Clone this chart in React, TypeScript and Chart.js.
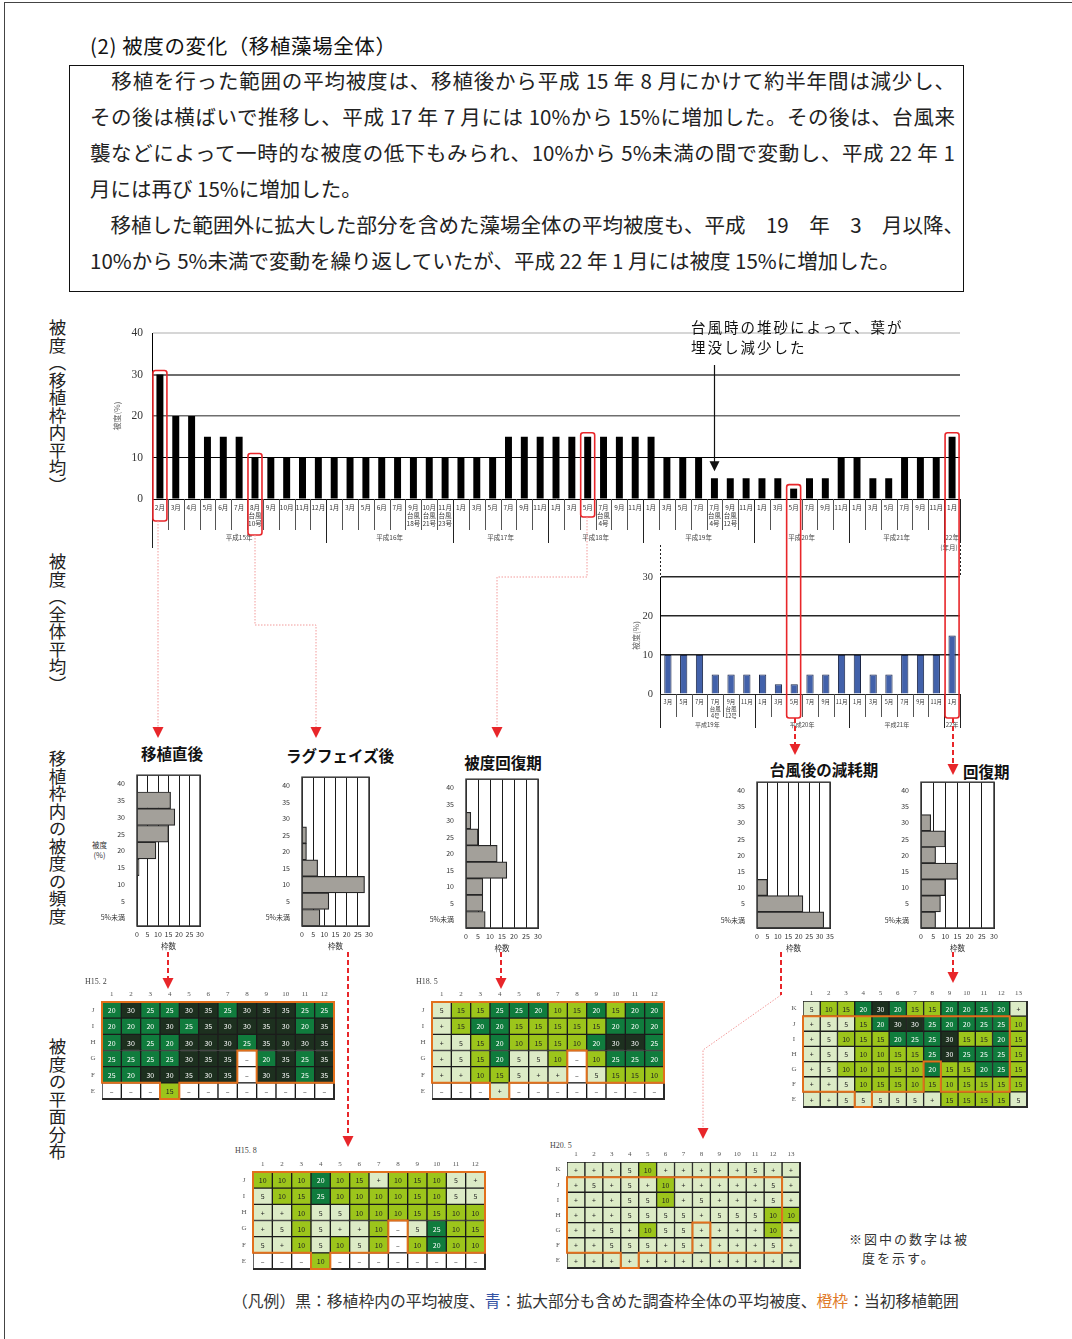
import { useEffect, useRef } from "react";
import { Chart, registerables } from "chart.js";

Chart.register(...registerables);

const JP = '"Noto Sans CJK JP", "Noto Sans", sans-serif';
const SERIF = '"Liberation Serif", "DejaVu Serif", serif';

// ---- 被度（移植枠内平均） 平成15年2月〜平成22年1月 ----
const MAIN_MONTHS = [
  "2月", "3月", "4月", "5月", "6月", "7月", "8月\n台風\n10号", "9月", "10月", "11月", "12月",
  "1月", "3月", "5月", "6月", "7月", "9月\n台風\n18号", "10月\n台風\n21号", "11月\n台風\n23号",
  "1月", "3月", "5月", "7月", "9月", "11月",
  "1月", "3月", "5月", "7月\n台風\n4号", "9月", "11月",
  "1月", "3月", "5月", "7月", "7月\n台風\n4号", "9月\n台風\n12号", "11月",
  "1月", "3月", "5月", "7月", "9月", "11月",
  "1月", "3月", "5月", "7月", "9月", "11月",
  "1月",
];
const MAIN_YEARS = ["平成15年", "平成16年", "平成17年", "平成18年", "平成19年", "平成20年", "平成21年", "22年"];
const MAIN_YEAR_SPANS = [11, 8, 6, 6, 7, 6, 6, 1];
const MAIN_COVER = [
  30, 20, 20, 15, 15, 15, 10, 10, 10, 10, 10,
  10, 10, 10, 10, 10, 10, 10, 10,
  10, 10, 10, 15, 15, 15,
  15, 15, 15, 15, 15, 15,
  15, 10, 10, 10, 5, 5, 5,
  5, 5, 2.5, 5, 5, 10,
  10, 5, 5, 10, 10, 10,
  15,
];
const MAIN_MARKED = [0, 6, 27, 40, 50];
const MAIN_NOTE_INDEX = 35;

// ---- 被度（全体平均） 平成19年3月〜平成22年1月 ----
const ALL_MONTHS = [
  "3月", "5月", "7月", "7月\n台風\n4号", "9月\n台風\n12号", "11月",
  "1月", "3月", "5月", "7月", "9月", "11月",
  "1月", "3月", "5月", "7月", "9月", "11月",
  "1月",
];
const ALL_YEARS = ["平成19年", "平成20年", "平成21年", "22年"];
const ALL_YEAR_SPANS = [6, 6, 6, 1];
const ALL_COVER = [10, 10, 10, 5, 5, 5, 5, 2.5, 2.5, 5, 5, 10, 10, 5, 5, 10, 10, 10, 15];

// ---- 移植枠内の被度の頻度（枠数） ----
const FREQ_LEVELS = ["40", "35", "30", "25", "20", "15", "10", "5", "5%未満"];
const FREQ_AFTER_PLANTING = [0, 16, 18, 15, 9, 1, 0, 0, 0];
const FREQ_LAG_PHASE = [0, 0, 0, 2, 2, 7, 28, 12, 8];
const FREQ_RECOVERING = [0, 0, 2, 5, 13, 17, 7, 7, 8];
const FREQ_AFTER_TYPHOON = [0, 0, 0, 0, 0, 0, 5, 22, 32];
const FREQ_RECOVERED = [0, 0, 4, 10, 6, 15, 10, 8, 6];

// ---- 被度の平面分布（枠ごとの被度） ----
const ROWS_J = ["J", "I", "H", "G", "F", "E"];
const ROWS_K = ["K", "J", "I", "H", "G", "F", "E"];
const MAP_H15_2 = [
  "20 30 25 25 30 35 25 30 35 35 25 25",
  "20 20 20 30 25 35 30 30 35 30 20 35",
  "20 30 25 20 30 30 30 25 35 30 30 35",
  "25 25 25 25 30 35 35 - 20 35 25 35",
  "25 20 30 30 35 30 35 - 30 35 25 35",
  "- - - 15 - - - - - - - -",
];
const MAP_H15_8 = [
  "10 10 10 20 10 15 + 10 15 10 5 +",
  "5 10 15 25 10 10 10 10 15 10 5 5",
  "+ + 10 5 5 10 10 10 15 15 10 10",
  "+ 5 10 5 + + 10 - 5 25 10 15",
  "5 + 10 5 10 5 10 - 10 20 10 10",
  "- - - 10 - - - - - - - -",
];
const MAP_H18_5 = [
  "5 15 15 25 25 20 10 15 20 15 20 20",
  "+ 15 20 20 15 15 15 15 15 20 20 20",
  "+ 5 15 20 10 15 15 10 20 30 30 25",
  "+ 5 15 20 5 5 10 - 10 25 25 20",
  "+ + 10 15 5 + + - 5 15 15 10",
  "- - - + - - - - - - - -",
];
const MAP_H20_5 = [
  "+ + + 5 10 + + + + + 5 + +",
  "+ 5 + 5 + 10 + + + + + 5 +",
  "+ + + 5 5 10 + 5 + + + 5 +",
  "+ + + 5 5 5 5 + 5 5 5 10 10",
  "+ + 5 + 10 5 5 + + + + 10 +",
  "+ + 5 5 5 + 5 + + + + 5 +",
  "+ + + + + + + + + + + + +",
];
const MAP_H22_1 = [
  "5 10 15 20 30 20 15 15 20 20 25 20 +",
  "+ 5 5 15 20 30 30 25 20 20 25 25 10",
  "+ 5 10 15 15 20 25 25 30 15 15 20 15",
  "+ 5 5 10 10 15 15 25 30 25 25 25 15",
  "+ 5 10 10 10 15 10 20 15 15 20 25 15",
  "+ + 5 10 15 15 10 15 10 15 15 15 15",
  "+ + 5 5 5 5 5 + 15 15 15 15 5",
];
// 当初移植範囲（橙枠）
const ORIGINAL_ROWS = ["J", "I", "H", "G", "F"];
const ORIGINAL_COLS = 12;
const ORIGINAL_EXCLUDED = ["G8", "F8"];
const ORIGINAL_EXTRA = ["E4"];

const PARAGRAPH = [
  { text: "　移植を行った範囲の平均被度は、移植後から平成 15 年 8 月にかけて約半年間は減少し、", justify: true },
  { text: "その後は横ばいで推移し、平成 17 年 7 月には 10%から 15%に増加した。その後は、台風来", justify: true },
  { text: "襲などによって一時的な被度の低下もみられ、10%から 5%未満の間で変動し、平成 22 年 1", justify: true },
  { text: "月には再び 15%に増加した。", justify: false },
  { text: "　移植した範囲外に拡大した部分を含めた藻場全体の平均被度も、平成　19　年　3　月以降、", justify: true },
  { text: "10%から 5%未満で変動を繰り返していたが、平成 22 年 1 月には被度 15%に増加した。", justify: false },
];

const RED = "#e8262a";

function yearBoundaries(spans: number[]) {
  const set = new Set<number>();
  let acc = 0;
  spans.forEach((s) => {
    acc += s;
    set.add(acc);
  });
  return set;
}

// Month / year rows under a timeline bar chart
function drawTimeAxis(chart: any, months: string[], years: string[], spans: number[], o: any) {
  const { ctx, chartArea: a } = chart;
  const xs = chart.scales.x;
  const n = months.length;
  const step = (a.right - a.left) / n;
  const bounds = yearBoundaries(spans);
  ctx.save();
  ctx.fillStyle = "#333";
  ctx.textAlign = "center";
  ctx.textBaseline = "middle";
  ctx.font = `${o.monthFont}px ${JP}`;
  months.forEach((m, i) => {
    const cx = xs.getPixelForValue(i);
    m.split("\n").forEach((ln, k) => ctx.fillText(ln, cx, a.bottom + o.monthTop + k * o.monthGap));
  });
  ctx.lineWidth = 1;
  for (let i = 1; i <= n; i++) {
    const bx = Math.round(a.left + i * step) + 0.5;
    const isYear = bounds.has(i);
    ctx.strokeStyle = isYear ? "#222" : "#555";
    ctx.beginPath();
    ctx.moveTo(bx, a.bottom);
    ctx.lineTo(bx, a.bottom + (isYear ? o.yearLen : o.monthLen));
    ctx.stroke();
  }
  ctx.strokeStyle = "#222";
  ctx.beginPath();
  ctx.moveTo(Math.round(a.left) + 0.5, a.bottom);
  ctx.lineTo(Math.round(a.left) + 0.5, a.bottom + o.axisLen);
  ctx.stroke();
  ctx.font = `${o.yearFont}px ${JP}`;
  ctx.fillStyle = "#444";
  let acc = 0;
  years.forEach((y, k) => {
    const cx = a.left + (acc + spans[k] / 2) * step;
    ctx.fillText(y, cx, a.bottom + o.yearTop);
    acc += spans[k];
  });
  ctx.restore();
}

function drawYTitle(chart: any, text: string, x: number, size: number) {
  const { ctx, chartArea: a } = chart;
  ctx.save();
  ctx.translate(x, (a.top + a.bottom) / 2);
  ctx.rotate(-Math.PI / 2);
  ctx.font = `${size}px ${JP}`;
  ctx.fillStyle = "#666";
  ctx.textAlign = "center";
  ctx.textBaseline = "middle";
  ctx.fillText(text, 0, 0);
  ctx.restore();
}

function drawMarks(chart: any, values: number[], marked: number[], depths: number[]) {
  const { ctx, chartArea: a } = chart;
  const xs = chart.scales.x;
  const ys = chart.scales.y;
  ctx.save();
  ctx.strokeStyle = RED;
  ctx.lineWidth = 1.6;
  marked.forEach((idx, k) => {
    const cx = xs.getPixelForValue(idx);
    const top = ys.getPixelForValue(values[idx]) - 4;
    const bottom = a.bottom + depths[k];
    ctx.beginPath();
    ctx.roundRect(cx - 7, top, 14, bottom - top, 2.5);
    ctx.stroke();
  });
  ctx.restore();
}

// how far each red frame reaches below the baseline
const MAIN_BOX_DEPTH = [22, 36, 18, 219, 219];

const mainDecor = {
  id: "mainDecor",
  afterDraw(chart: any) {
    const { ctx, chartArea: a } = chart;
    drawTimeAxis(chart, MAIN_MONTHS, MAIN_YEARS, MAIN_YEAR_SPANS, {
      monthFont: 6.5, monthTop: 9, monthGap: 8, monthLen: 31, yearLen: 44, axisLen: 49, yearFont: 6.5, yearTop: 39,
    });
    ctx.save();
    ctx.font = `6.5px ${JP}`;
    ctx.fillStyle = "#444";
    ctx.textAlign = "center";
    ctx.textBaseline = "middle";
    ctx.fillText("(年月)", a.right - 11, a.bottom + 49);
    ctx.restore();
    drawYTitle(chart, "被度(%)", a.left - 35, 8);
    // 台風時の堆砂を示す矢印
    const xs = chart.scales.x;
    const ys = chart.scales.y;
    const cx = Math.round(xs.getPixelForValue(MAIN_NOTE_INDEX)) + 0.5;
    const tip = ys.getPixelForValue(MAIN_COVER[MAIN_NOTE_INDEX]) - 7;
    ctx.save();
    ctx.strokeStyle = "#111";
    ctx.fillStyle = "#111";
    ctx.lineWidth = 1.2;
    ctx.beginPath();
    ctx.moveTo(cx, a.top + 32);
    ctx.lineTo(cx, tip - 9);
    ctx.stroke();
    ctx.beginPath();
    ctx.moveTo(cx - 5, tip - 10);
    ctx.lineTo(cx + 5, tip - 10);
    ctx.lineTo(cx, tip);
    ctx.closePath();
    ctx.fill();
    ctx.restore();
    drawMarks(chart, MAIN_COVER, MAIN_MARKED, MAIN_BOX_DEPTH);
  },
};

const allDecor = {
  id: "allDecor",
  afterDraw(chart: any) {
    const { ctx, chartArea: a } = chart;
    drawTimeAxis(chart, ALL_MONTHS, ALL_YEARS, ALL_YEAR_SPANS, {
      monthFont: 5.5, monthTop: 8, monthGap: 7, monthLen: 23, yearLen: 34, axisLen: 34, yearFont: 6, yearTop: 31,
    });
    drawYTitle(chart, "被度(%)", a.left - 24, 8);
    ctx.save();
    ctx.strokeStyle = "#222";
    ctx.lineWidth = 1;
    ctx.setLineDash([2, 2]);
    [a.left, a.right].forEach((x) => {
      ctx.beginPath();
      ctx.moveTo(Math.round(x) + 0.5, 5);
      ctx.lineTo(Math.round(x) + 0.5, a.top);
      ctx.stroke();
    });
    ctx.restore();
  },
};

function useChart(make: () => any) {
  const ref = useRef<HTMLCanvasElement>(null);
  useEffect(() => {
    const chart = new Chart(ref.current as HTMLCanvasElement, make());
    return () => chart.destroy();
  }, []);
  return ref;
}

function MainChart() {
  const L = 90, T = 315, W = 885, H = 430;
  const ref = useChart(() => ({
    type: "bar",
    data: {
      labels: MAIN_MONTHS,
      datasets: [{ data: MAIN_COVER, backgroundColor: "#000", barPercentage: 0.44, categoryPercentage: 1 }],
    },
    options: {
      responsive: false,
      animation: false,
      devicePixelRatio: 1,
      layout: { padding: { left: 0, top: 18, right: 15, bottom: 246 } },
      plugins: { legend: { display: false }, tooltip: { enabled: false } },
      scales: {
        x: { display: false },
        y: {
          min: 0,
          max: 40,
          ticks: { stepSize: 10, font: { family: SERIF, size: 11.5 }, color: "#333", padding: 9 },
          grid: {
            drawTicks: false,
            color: (c: any) => (c.tick.value === 40 ? "#d6d6d6" : c.tick.value === 30 || c.tick.value === 20 ? "#6e6e6e" : "#000"),
            lineWidth: (c: any) => (c.tick.value === 40 || c.tick.value === 30 ? 2 : c.tick.value === 20 ? 1.6 : 1),
          },
          border: { color: "#000", width: 1 },
          afterFit: (s: any) => {
            s.width = 62;
          },
        },
      },
    },
    plugins: [mainDecor],
  }));
  return <canvas ref={ref} width={W} height={H} style={{ position: "absolute", left: L, top: T, width: W, height: H, zIndex: 3 }} />;
}

function AllChart() {
  const L = 620, T = 540, W = 350, H = 200;
  const ref = useChart(() => ({
    type: "bar",
    data: {
      labels: ALL_MONTHS,
      datasets: [
        { data: ALL_COVER, backgroundColor: "#4261aa", borderColor: "#1c2748", borderWidth: 1, barPercentage: 0.46, categoryPercentage: 1 },
      ],
    },
    options: {
      responsive: false,
      animation: false,
      devicePixelRatio: 1,
      layout: { padding: { left: 0, top: 37, right: 10, bottom: 46 } },
      plugins: { legend: { display: false }, tooltip: { enabled: false } },
      scales: {
        x: { display: false },
        y: {
          min: 0,
          max: 30,
          ticks: { stepSize: 10, font: { family: SERIF, size: 10.5 }, color: "#333", padding: 7 },
          grid: { drawTicks: false, color: "#262626", lineWidth: (c: any) => (c.tick.value === 0 ? 1 : 1.5) },
          border: { color: "#000", width: 1 },
          afterFit: (s: any) => {
            s.width = 40;
          },
        },
      },
    },
    plugins: [allDecor],
  }));
  return <canvas ref={ref} width={W} height={H} style={{ position: "absolute", left: L, top: T, width: W, height: H, zIndex: 2 }} />;
}

const frame = {
  id: "frame",
  afterDraw(chart: any) {
    const { ctx, chartArea: a } = chart;
    ctx.save();
    ctx.strokeStyle = "#3a3a3a";
    ctx.lineWidth = 1.5;
    ctx.strokeRect(a.left, a.top, a.right - a.left, a.bottom - a.top);
    ctx.restore();
  },
};

function FreqChart({ counts, max, box }: { counts: number[]; max: number; box: number[] }) {
  const [l, t, r, b] = box;
  const padL = 46, padT = 8, padR = 10, padB = 16;
  const W = r - l + padL + padR;
  const H = b - t + padT + padB;
  const ref = useChart(() => ({
    type: "bar",
    data: {
      labels: FREQ_LEVELS,
      datasets: [
        { data: counts, backgroundColor: "#a3a09a", borderColor: "#262626", borderWidth: 1.2, barPercentage: 1, categoryPercentage: 1 },
      ],
    },
    options: {
      indexAxis: "y",
      responsive: false,
      animation: false,
      devicePixelRatio: 1,
      layout: { padding: { left: 0, top: padT, right: padR, bottom: 0 } },
      plugins: { legend: { display: false }, tooltip: { enabled: false } },
      scales: {
        x: {
          type: "linear",
          min: 0,
          max,
          ticks: { stepSize: 5, autoSkip: false, maxRotation: 0, font: { family: JP, size: 7 }, color: "#333", padding: 4 },
          grid: { drawTicks: false, color: "#1a1a1a", lineWidth: 1 },
          border: { color: "#1a1a1a" },
          afterFit: (s: any) => {
            s.height = padB;
          },
        },
        y: {
          type: "category",
          ticks: { autoSkip: false, font: { family: JP, size: 7 }, color: "#333", padding: 4 },
          grid: { display: false },
          border: { color: "#1a1a1a" },
          afterFit: (s: any) => {
            s.width = padL;
          },
        },
      },
    },
    plugins: [frame],
  }));
  return (
    <>
      <canvas ref={ref} width={W} height={H} style={{ position: "absolute", left: l - padL, top: t - padT, width: W, height: H }} />
      <div style={{ position: "absolute", left: (l + r) / 2 - 20, width: 40, top: b + 15, fontSize: 7.5, lineHeight: "9px", textAlign: "center", color: "#333" }}>
        枠数
      </div>
    </>
  );
}

function cellFill(v: string) {
  if (v === undefined || v === "-") return "#ffffff";
  if (v === "+" || v === "5") return "#dcebc6";
  const n = Number(v);
  if (n <= 15) return "#9cc51b";
  if (n <= 25) return "#107c3d";
  return "#1d301f";
}

function isOriginal(row: string, col: number) {
  const key = row + col;
  if (ORIGINAL_EXTRA.includes(key)) return true;
  return ORIGINAL_ROWS.includes(row) && col >= 1 && col <= ORIGINAL_COLS && !ORIGINAL_EXCLUDED.includes(key);
}

const gridDecor = {
  id: "gridDecor",
  afterDraw(chart: any, _args: any, opts: any) {
    const { ctx, chartArea: a } = chart;
    const rows: string[] = opts.rows;
    const cells: string[][] = opts.cells;
    const xs = chart.scales.x;
    const ys = chart.scales.y;
    const nCols = cells[0].length;
    const ch = (a.bottom - a.top) / rows.length;
    ctx.save();
    // cell values
    ctx.textAlign = "center";
    ctx.textBaseline = "middle";
    ctx.font = `7px ${JP}`;
    chart.getDatasetMeta(0).data.forEach((el: any, i: number) => {
      const v = cells[Math.floor(i / nCols)][i % nCols];
      const n = Number(v);
      ctx.fillStyle = !isNaN(n) && n >= 20 ? "#ffffff" : "#222";
      ctx.fillText(v === "-" ? "–" : v, (el.x + el.base) / 2, el.y + 0.5);
    });
    // column numbers and row letters
    ctx.font = `7px ${SERIF}`;
    ctx.fillStyle = "#555";
    for (let c = 0; c < nCols; c++) ctx.fillText(String(c + 1), (xs.getPixelForValue(c) + xs.getPixelForValue(c + 1)) / 2, a.top - 8);
    rows.forEach((r, k) => ctx.fillText(r, a.left - 9, ys.getPixelForValue(k)));
    // outer frame
    ctx.strokeStyle = "#2a2a2a";
    ctx.lineWidth = 2;
    ctx.beginPath();
    ctx.moveTo(a.left, a.bottom);
    ctx.lineTo(a.right, a.bottom);
    ctx.lineTo(a.right, a.top);
    ctx.stroke();
    // 当初移植範囲
    ctx.strokeStyle = "#e2701c";
    ctx.lineWidth = 2;
    ctx.lineCap = "square";
    ctx.beginPath();
    rows.forEach((row, r) => {
      for (let c = 0; c < nCols; c++) {
        if (!isOriginal(row, c + 1)) continue;
        const x0 = xs.getPixelForValue(c);
        const x1 = xs.getPixelForValue(c + 1);
        const y0 = ys.getPixelForValue(r) - ch / 2;
        const y1 = y0 + ch;
        if (r === 0 || !isOriginal(rows[r - 1], c + 1)) {
          ctx.moveTo(x0, y0);
          ctx.lineTo(x1, y0);
        }
        if (r === rows.length - 1 || !isOriginal(rows[r + 1], c + 1)) {
          ctx.moveTo(x0, y1);
          ctx.lineTo(x1, y1);
        }
        if (!isOriginal(row, c)) {
          ctx.moveTo(x0, y0);
          ctx.lineTo(x0, y1);
        }
        if (!isOriginal(row, c + 2)) {
          ctx.moveTo(x1, y0);
          ctx.lineTo(x1, y1);
        }
      }
    });
    ctx.stroke();
    ctx.restore();
  },
};

function GridMap({ rows, map, box }: { rows: string[]; map: string[]; box: number[] }) {
  const [l, t, r, b] = box;
  const cells = map.map((s) => s.split(" "));
  const nCols = cells[0].length;
  const padL = 22, padT = 16, padR = 3, padB = 3;
  const W = r - l + padL + padR;
  const H = b - t + padT + padB;
  const ref = useChart(() => {
    const pts: any[] = [];
    cells.forEach((row, ri) => row.forEach((v, c) => pts.push({ x: [c, c + 1], y: rows[ri], v })));
    return {
      type: "bar",
      data: {
        labels: rows,
        datasets: [
          {
            data: pts,
            backgroundColor: (c: any) => cellFill(c.raw ? c.raw.v : undefined),
            borderColor: "#1b1b1b",
            borderWidth: 1,
            borderSkipped: false,
            barPercentage: 1,
            categoryPercentage: 1,
          },
        ],
      },
      options: {
        indexAxis: "y",
        responsive: false,
        animation: false,
        devicePixelRatio: 1,
        layout: { padding: { left: padL, top: padT, right: padR, bottom: padB } },
        plugins: { legend: { display: false }, tooltip: { enabled: false }, gridDecor: { rows, cells } },
        scales: {
          x: { type: "linear", display: false, min: 0, max: nCols },
          y: { type: "category", display: false },
        },
      },
      plugins: [gridDecor],
    };
  });
  return <canvas ref={ref} width={W} height={H} style={{ position: "absolute", left: l - padL, top: t - padT, width: W, height: H }} />;
}

const PINK_PATHS = ["M158 521 V727", "M255 535 V625 H316 V727", "M587 517 V577 H497 V727", "M781 995 L703 1050 V1128"];
const RED_PATHS = ["M795 718 V744", "M953 718 V764", "M168 952 V978", "M348 952 V1136", "M501 952 V978", "M781 952 V995", "M953 952 V972"];
const ARROW_TIPS = [
  [158, 727], [316, 727], [497, 727], [795, 744], [953, 764], [168, 978], [348, 1136], [501, 978], [703, 1128], [953, 972],
];

function Connectors() {
  return (
    <svg width={1072} height={1339} style={{ position: "absolute", left: 0, top: 0, zIndex: 5, pointerEvents: "none" }}>
      {PINK_PATHS.map((d, i) => (
        <path key={"p" + i} d={d} fill="none" stroke="#f29a9a" strokeWidth={1} strokeDasharray="1.5 1.5" />
      ))}
      {RED_PATHS.map((d, i) => (
        <path key={"r" + i} d={d} fill="none" stroke={RED} strokeWidth={2} strokeDasharray="5 3" />
      ))}
      {ARROW_TIPS.map(([x, y], i) => (
        <polygon key={"t" + i} points={`${x - 5.5},${y} ${x + 5.5},${y} ${x},${y + 11}`} fill={RED} />
      ))}
    </svg>
  );
}

const abs = (left: number, top: number, extra: any = {}) => ({ position: "absolute" as const, left, top, ...extra });

function SideLabel({ text, top }: { text: string; top: number }) {
  return (
    <div style={abs(48, top, { writingMode: "vertical-rl", fontSize: 17.5, lineHeight: "18px", width: 18, color: "#222", whiteSpace: "nowrap" })}>{text}</div>
  );
}

function Heading({ text, cx, cy }: { text: string; cx: number; cy: number }) {
  return (
    <div style={abs(cx - 80, cy - 11, { width: 160, textAlign: "center", fontSize: 15.5, lineHeight: "22px", fontWeight: 700, color: "#111" })}>{text}</div>
  );
}

export default function App() {
  return (
    <div style={{ position: "absolute", left: 0, top: 0, width: 1072, height: 1339, overflow: "hidden", background: "#fff", fontFamily: JP, color: "#222" }}>
      <div style={abs(4, 2, { width: 1100, height: 1400, borderLeft: "1px solid #444", borderTop: "1px solid #444" })} />
      <div style={abs(90, 31, { fontSize: 20.5, lineHeight: "28px", letterSpacing: 0.6, color: "#111", whiteSpace: "nowrap" })}>(2) 被度の変化（移植藻場全体）</div>
      <div style={abs(69, 65, { width: 895, height: 227, border: "1.5px solid #111", boxSizing: "border-box" })} />
      {PARAGRAPH.map((p, i) => (
        <div
          key={i}
          style={abs(90, 66 + i * 36, {
            width: 865,
            fontSize: 20.5,
            lineHeight: "28px",
            whiteSpace: "nowrap",
            color: "#222",
            textAlign: p.justify ? "justify" : "left",
            textAlignLast: p.justify ? "justify" : "left",
          })}
        >
          {p.text}
        </div>
      ))}

      <SideLabel text="被度（移植枠内平均）" top={319} />
      <SideLabel text="被度（全体平均）" top={553} />
      <SideLabel text="移植枠内の被度の頻度" top={750} />
      <SideLabel text="被度の平面分布" top={1038} />

      <AllChart />
      <MainChart />
      <div style={abs(691, 317, { fontSize: 14.5, lineHeight: "20px", letterSpacing: 2, color: "#111", whiteSpace: "nowrap", zIndex: 4 })}>
        台風時の堆砂によって、葉が
        <br />
        埋没し減少した
      </div>

      <Heading text="移植直後" cx={172} cy={753} />
      <Heading text="ラグフェイズ後" cx={340} cy={755} />
      <Heading text="被度回復期" cx={503} cy={762} />
      <Heading text="台風後の減耗期" cx={824} cy={769} />
      <div style={abs(963, 760, { fontSize: 15.5, lineHeight: "22px", fontWeight: 700, color: "#111" })}>回復期</div>
      <div style={abs(92, 840, { fontSize: 7.5, lineHeight: "10px", textAlign: "center", color: "#333" })}>
        被度
        <br />
        (%)
      </div>
      <FreqChart counts={FREQ_AFTER_PLANTING} max={30} box={[137, 775, 200, 926]} />
      <FreqChart counts={FREQ_LAG_PHASE} max={30} box={[302, 777, 369, 926]} />
      <FreqChart counts={FREQ_RECOVERING} max={30} box={[466, 779, 538, 928]} />
      <FreqChart counts={FREQ_AFTER_TYPHOON} max={35} box={[757, 782, 830, 928]} />
      <FreqChart counts={FREQ_RECOVERED} max={30} box={[921, 782, 994, 928]} />

      <div style={abs(85, 977, { fontSize: 8, fontFamily: SERIF, color: "#444" })}>H15. 2</div>
      <GridMap rows={ROWS_J} map={MAP_H15_2} box={[102, 1002, 334, 1099]} />
      <div style={abs(416, 977, { fontSize: 8, fontFamily: SERIF, color: "#444" })}>H18. 5</div>
      <GridMap rows={ROWS_J} map={MAP_H18_5} box={[432, 1002, 664, 1099]} />
      <GridMap rows={ROWS_K} map={MAP_H22_1} box={[803, 1001, 1027, 1107]} />
      <div style={abs(235, 1146, { fontSize: 8, fontFamily: SERIF, color: "#444" })}>H15. 8</div>
      <GridMap rows={ROWS_J} map={MAP_H15_8} box={[253, 1172, 485, 1269]} />
      <div style={abs(550, 1141, { fontSize: 8, fontFamily: SERIF, color: "#444" })}>H20. 5</div>
      <GridMap rows={ROWS_K} map={MAP_H20_5} box={[567, 1162, 800, 1268]} />

      <div style={abs(849, 1229, { fontSize: 13, lineHeight: "19px", letterSpacing: 2, color: "#333", whiteSpace: "nowrap" })}>
        ※図中の数字は被
        <br />
        <span style={{ paddingLeft: 13 }}>度を示す。</span>
      </div>
      <div style={abs(232, 1290, { fontSize: 15.8, lineHeight: "22px", color: "#333", whiteSpace: "nowrap" })}>
        （凡例）黒：移植枠内の平均被度、<span style={{ color: "#3553a4" }}>青</span>：拡大部分も含めた調査枠全体の平均被度、
        <span style={{ color: "#e07a2a" }}>橙枠</span>：当初移植範囲
      </div>
      <Connectors />
    </div>
  );
}
